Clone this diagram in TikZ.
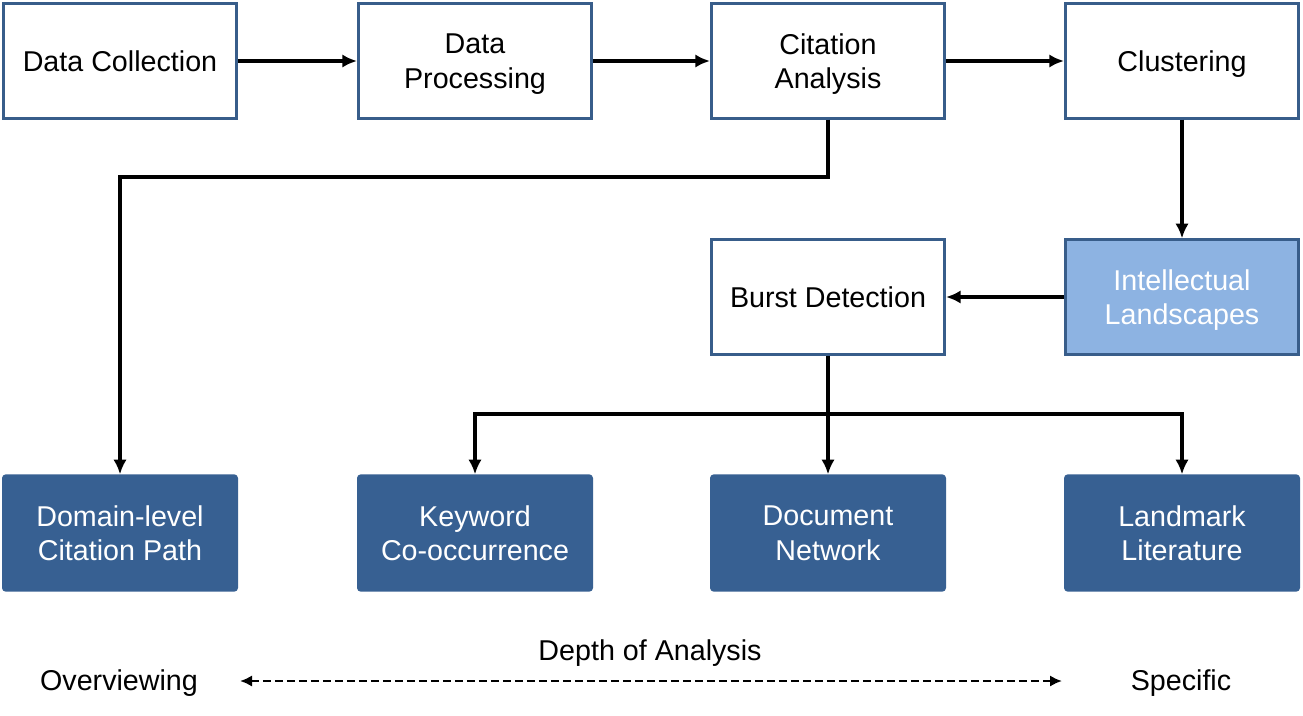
\documentclass[tikz,border=0pt]{standalone}
\usepackage{fontspec}
\setmainfont{Liberation Sans}
\usetikzlibrary{arrows.meta}
\definecolor{boxline}{HTML}{385D8A}
\definecolor{lightfill}{HTML}{8DB3E2}
\definecolor{darkfill}{HTML}{376092}
\tikzset{
  flowarrow/.style={line width=2.6pt,-{Latex[length=11pt,width=10pt]}},
  textlabel/.style={font=\fontsize{21.5}{26}\selectfont}
}
\begin{document}
\begin{tikzpicture}[x=0.75pt,y=-0.75pt,
    box/.style={rectangle,draw=boxline,line width=2pt,minimum width=175pt,
      minimum height=86pt,text depth=0pt,align=center,font=\fontsize{21.5}{26}\selectfont},
    plainbox/.style={box,fill=white,text=black},
    lightbox/.style={box,fill=lightfill,text=white},
    darkbox/.style={box,fill=darkfill,draw=darkfill,rounded corners=2pt,text=white}]

      \useasboundingbox (0,0) rectangle (1303,715);

      \begin{scope}[every node/.style={plainbox}]
        \node (dc) at (120,61)  {Data Collection};
        \node (dp) at (475,61)  {Data\\Processing};
        \node (ca) at (828,61)  {Citation\\Analysis};
        \node (cl) at (1182,61) {Clustering};
        \node (bd) at (828,297) {Burst Detection};
      \end{scope}

      \node[lightbox] (il) at (1182,297) {Intellectual\\Landscapes};

      \begin{scope}[every node/.style={darkbox}]
        \node (dcp) at (120,533)  {Domain-level\\Citation Path};
        \node (kc)  at (475,533)  {Keyword\\Co-occurrence};
        \node (dn)  at (828,533)  {Document\\Network};
        \node (ll)  at (1182,533) {Landmark\\Literature};
      \end{scope}

      \coordinate (split1) at (828,177);
      \coordinate (split2) at (828,414);

      \draw[flowarrow] (dc) -- (dp);
      \draw[flowarrow] (dp) -- (ca);
      \draw[flowarrow] (ca) -- (cl);
      \draw[flowarrow] (cl) -- (il);
      \draw[flowarrow] (il) -- (bd);
      \draw[flowarrow] (ca.south) -- (split1) -| (dcp.north);
      \draw[flowarrow] (bd.south) -- (split2) -| (kc.north);
      \draw[flowarrow] (split2) -- (dn.north);
      \draw[flowarrow] (split2) -| (ll.north);

      \node[textlabel] (depth) at (650,653) {Depth of Analysis};
      \node[textlabel] (over)  at (119,683) {Overviewing};
      \node[textlabel] (spec)  at (1181,683) {Specific};
      \coordinate (dl) at (240,681);
      \coordinate (dr) at (1062,681);
      \draw[{Latex[length=9pt,width=8.5pt]}-{Latex[length=9pt,width=8.5pt]},line width=1.8pt,
        dash pattern=on 6pt off 3pt] (dl) -- (dr);

    \end{tikzpicture}
\end{document}
